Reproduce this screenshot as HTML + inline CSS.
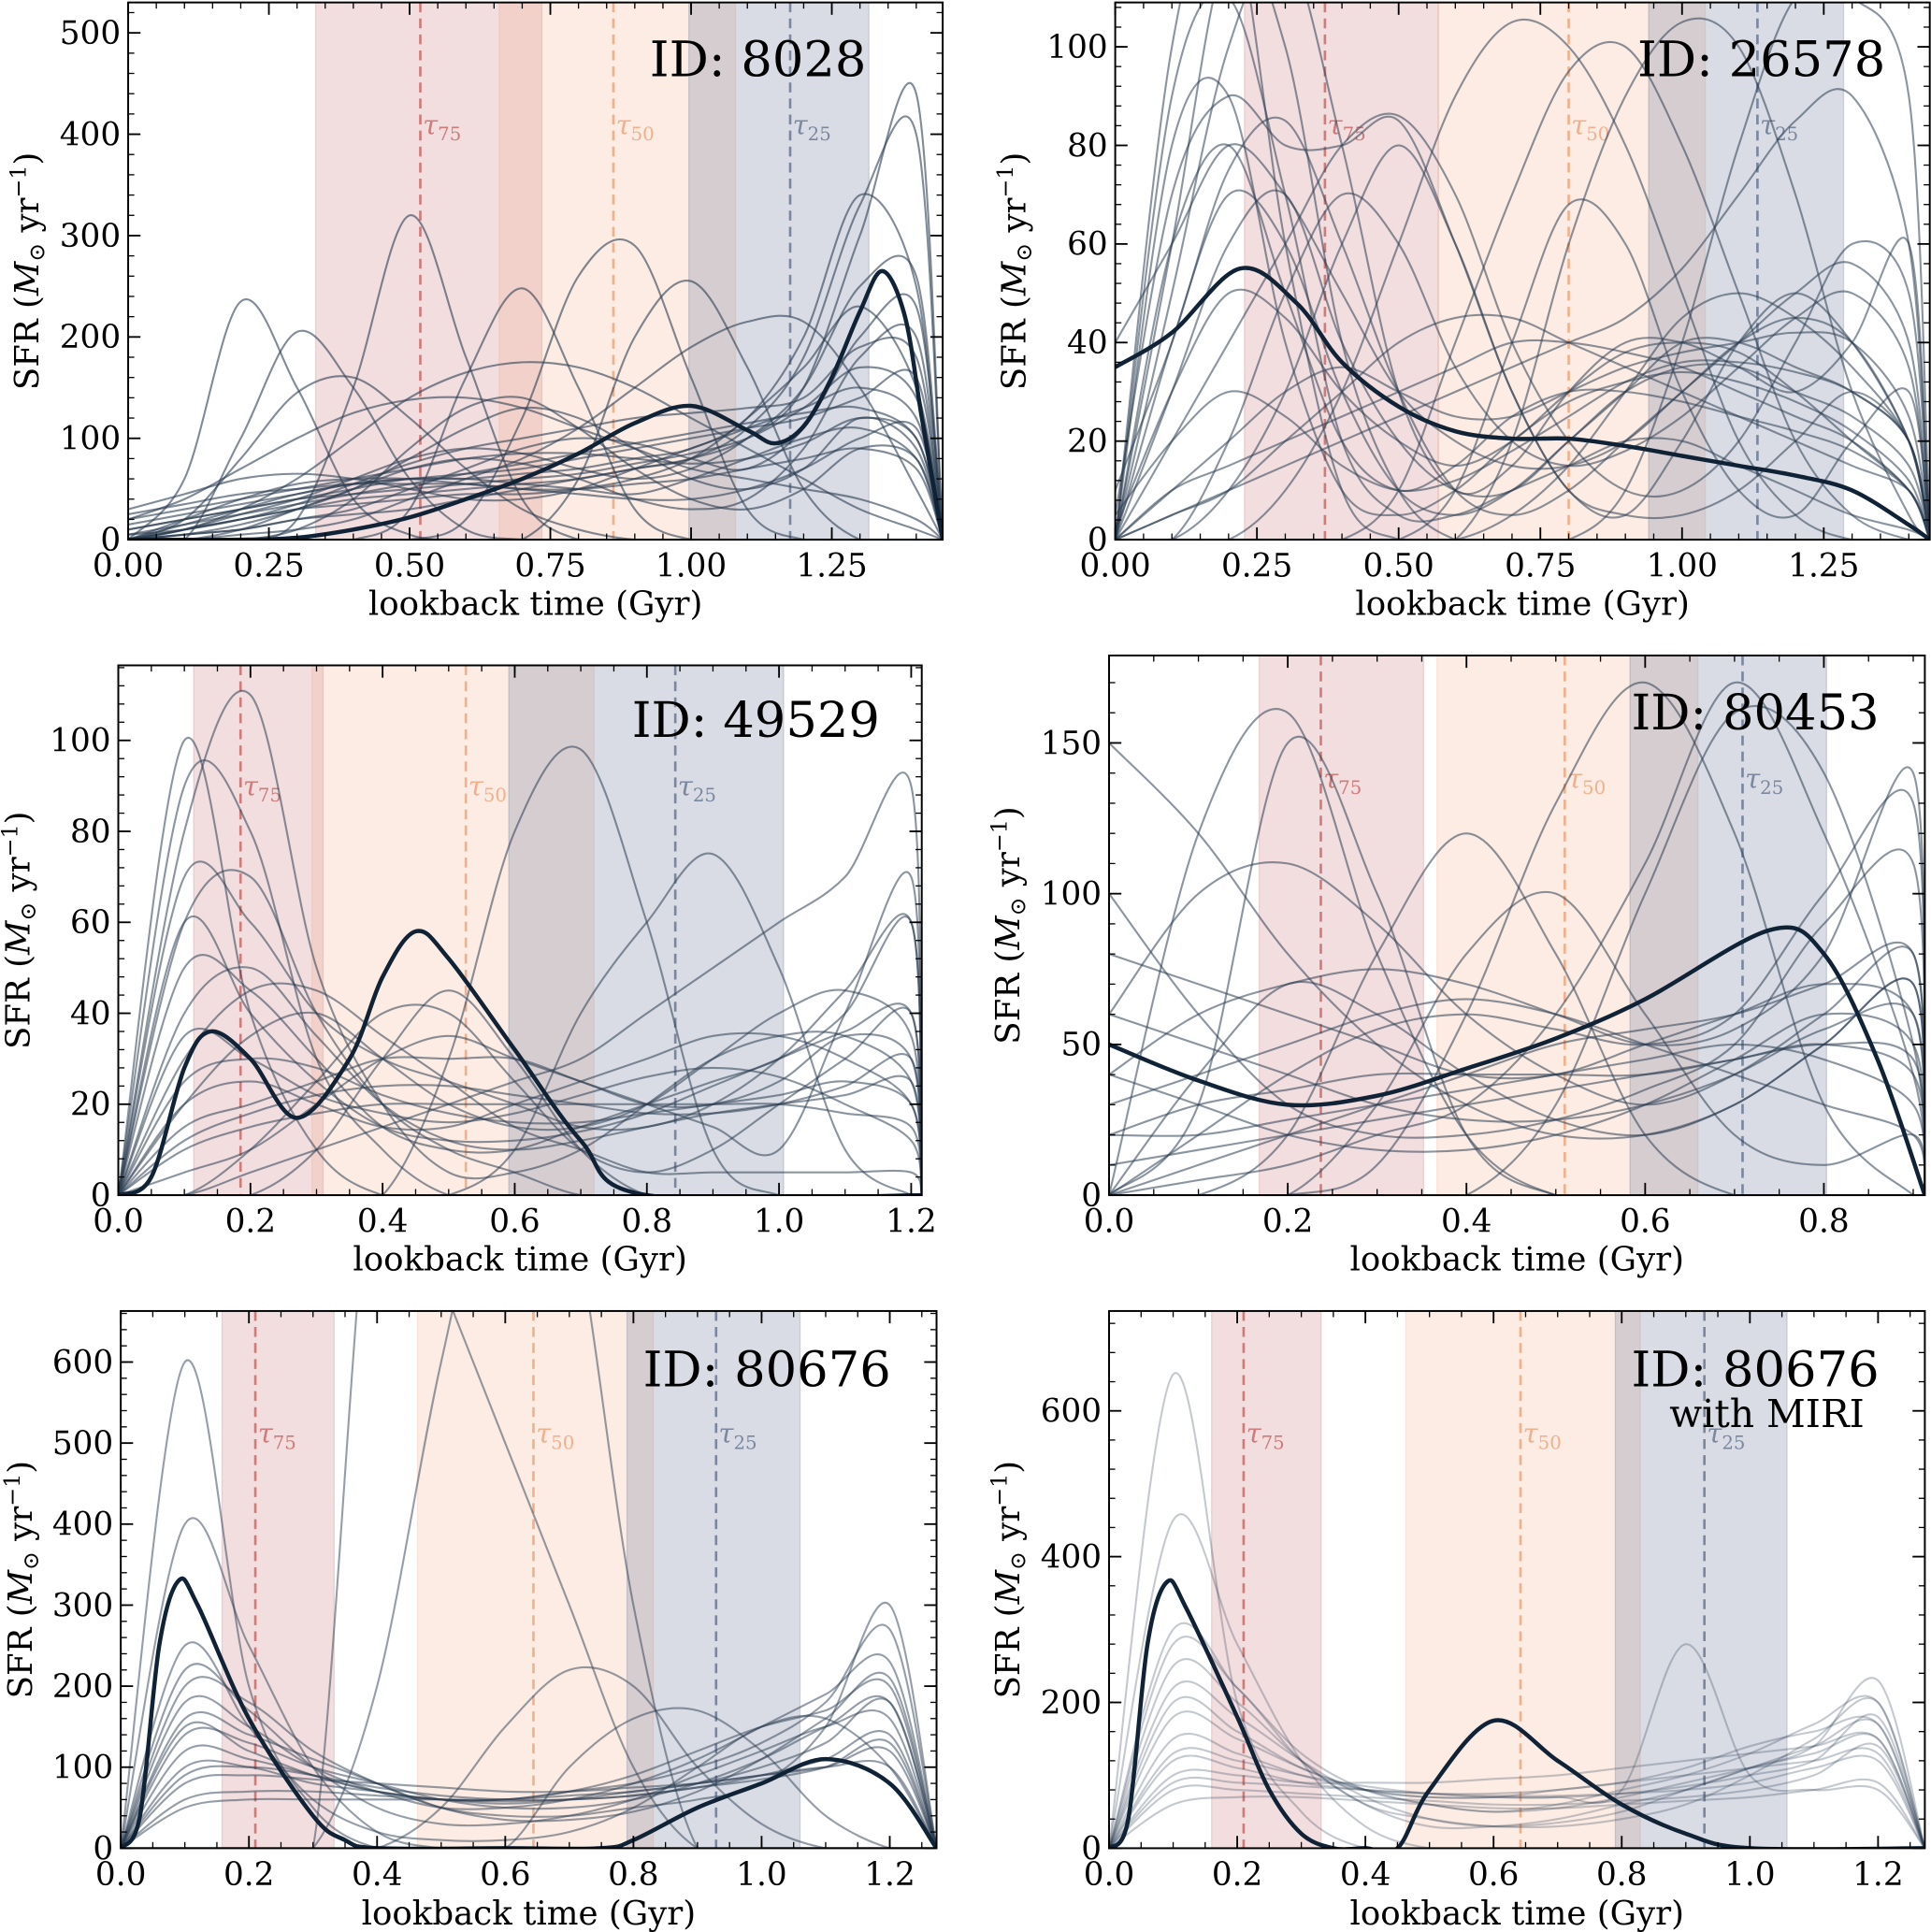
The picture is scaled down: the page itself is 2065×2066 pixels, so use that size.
<!DOCTYPE html>
<html><head><meta charset="utf-8"><style>
html,body{margin:0;padding:0;background:#fff;}
svg{display:block;font-family:"DejaVu Serif","Liberation Serif",serif;}
</style></head><body>
<svg id="fig" width="2065" height="2066" viewBox="0 0 1567 1568" preserveAspectRatio="none" xmlns="http://www.w3.org/2000/svg"></svg>
<script>
// ---------- DATA ----------
// Panel 1: ID 8028
const p1Times=[0,0.1,0.2,0.3,0.4,0.5,0.6,0.7,0.8,0.9,1.0,1.1,1.2,1.3,1.4,1.447];
const p1BoldTimes=[0,0.2,0.3,0.4,0.5,0.6,0.7,0.8,0.9,1.0,1.1,1.15,1.2,1.25,1.3,1.34,1.38,1.41,1.447];
const p1Bold=[0,0,2,10,22,40,60,85,115,132,108,95,112,160,225,265,220,120,0];
const p1Thin=[
[0,60,235,150,40,5,0,0,0,0,0,0,0,0,0,0],
[0,0,100,205,150,60,10,0,0,0,0,0,0,0,0,0],
[0,0,0,20,150,320,180,40,0,0,0,0,0,0,0,0],
[0,0,0,0,0,30,160,248,150,30,0,0,0,0,0,0],
[0,0,0,0,0,0,20,120,260,290,160,30,0,0,0,0],
[0,0,0,0,0,0,0,0,60,200,255,170,50,0,0,0],
[0,10,30,60,100,140,165,175,170,150,120,90,60,30,10,0],
[0,5,10,20,25,30,40,50,60,70,80,100,150,300,440,0],
[0,10,20,30,40,45,50,55,60,70,80,110,180,330,400,0],
[10,20,30,40,50,60,60,65,70,80,90,120,200,340,250,0],
[0,0,5,10,20,40,60,80,110,150,190,215,215,150,50,0],
[20,40,70,100,125,138,140,130,110,90,70,60,50,40,20,0],
[0,20,40,55,60,60,55,50,50,55,60,70,80,90,70,0],
[30,45,60,65,60,50,40,40,50,70,90,110,130,150,120,0],
[0,20,80,145,160,120,70,30,10,0,0,0,0,0,0,0],
[5,15,25,35,45,55,65,75,85,95,105,115,125,130,100,0],
[0,5,10,20,30,50,70,90,100,95,80,70,110,200,230,0],
[15,25,35,45,55,60,60,55,50,45,60,80,100,110,80,0],
[0,10,25,40,60,80,90,85,70,60,70,100,150,250,260,0],
[0,0,10,30,50,70,80,75,60,40,30,40,90,180,200,0],
[0,5,15,30,50,80,110,130,120,90,60,50,70,120,90,0],
[10,20,30,40,45,50,55,60,65,75,85,100,130,170,140,0],
[0,15,30,45,55,60,65,70,80,90,100,110,120,140,160,0],
[20,30,40,50,60,70,80,85,85,80,75,80,95,120,100,0],
[0,0,0,10,40,90,130,140,110,70,40,30,50,90,80,0],
[5,10,20,35,55,75,90,100,110,120,125,130,140,190,180,0],
[0,10,20,30,35,40,45,45,50,60,80,120,170,230,150,0],
[25,35,45,50,55,55,55,50,45,40,40,50,70,100,110,0]];
// Panel 2: ID 26578
const p2Times=[0,0.1,0.2,0.3,0.4,0.5,0.6,0.7,0.8,0.9,1.0,1.1,1.2,1.3,1.4,1.437];
const p2BoldTimes=[0,0.1,0.22,0.32,0.4,0.5,0.6,0.7,0.8,0.9,1.0,1.1,1.2,1.3,1.4,1.437];
const p2Bold=[35,42,55,48,36,27,22,20.5,20.5,19,17,15,13,10,3,0];
const p2Thin=[
[0,60,120,100,40,10,0,0,0,0,0,0,0,0,0,0],
[0,90,110,70,20,5,5,10,15,20,20,15,10,5,2,0],
[5,70,90,80,80,85,60,30,10,5,5,10,20,30,20,0],
[0,20,40,60,80,86,70,40,20,10,10,20,40,60,50,0],
[0,0,0,10,30,60,90,105,100,80,50,20,5,0,0,0],
[0,0,0,0,0,10,40,70,95,100,80,50,20,5,0,0],
[0,0,0,0,0,0,0,20,60,90,105,100,70,30,5,0],
[0,5,10,15,20,25,30,35,40,45,55,70,85,90,60,0],
[0,10,15,20,25,30,35,40,40,38,35,30,25,20,10,0],
[0,5,10,20,30,40,45,45,40,35,30,25,20,15,10,0],
[40,60,80,70,50,30,20,15,15,20,30,40,50,56,40,0],
[0,0,0,0,0,0,0,0,0,10,40,80,110,110,90,0],
[0,30,60,70,40,20,10,10,20,30,40,40,35,30,20,0],
[0,0,10,30,60,80,60,30,10,5,20,40,50,40,20,0],
[0,0,0,0,0,0,10,40,68,60,30,10,5,20,30,0],
[10,40,75,85,60,30,10,5,10,20,30,40,45,40,20,0],
[0,100,130,60,10,0,0,5,15,30,45,50,45,35,20,0],
[0,50,100,120,80,30,10,15,30,40,40,35,30,40,60,0],
[0,40,70,60,30,10,5,10,20,30,35,35,30,25,15,0],
[2,30,50,45,30,20,15,20,30,38,40,38,30,20,10,0],
[0,60,80,50,20,10,15,25,30,30,28,25,22,18,10,0],
[0,10,20,30,35,30,25,25,30,35,38,40,42,40,25,0],
[5,20,30,25,15,10,12,18,25,32,36,36,34,30,20,0],
[0,80,90,40,10,5,10,20,28,32,34,32,28,22,12,0],
[0,0,20,50,70,60,35,20,15,18,25,35,45,50,35,0]];
// Panel 3: ID 49529
const p3Times=[0,0.1,0.2,0.3,0.4,0.5,0.6,0.7,0.8,0.9,1.0,1.1,1.2,1.216];
const p3BoldTimes=[0,0.05,0.1,0.14,0.2,0.27,0.35,0.4,0.45,0.5,0.6,0.7,0.8,1.216];
const p3Bold=[0,4,28,36,30,17,30,48,58,52,32,12,0,0];
const p3Thin=[
[0,100,40,10,0,0,0,0,0,0,0,0,0,0],
[0,90,80,30,10,0,0,0,0,0,0,0,0,0],
[0,60,70,40,20,10,5,0,0,0,0,0,0,0],
[0,30,45,45,35,25,15,10,5,5,5,5,5,0],
[0,0,0,0,0,30,80,98,60,10,0,0,0,0],
[0,0,0,0,0,0,10,40,60,75,50,10,0,0],
[0,5,10,20,30,35,30,25,20,20,25,35,30,0],
[0,0,5,10,15,20,25,30,40,50,60,70,90,0],
[0,10,15,18,20,20,20,20,20,20,20,18,15,0],
[0,50,45,30,15,10,10,15,20,25,30,40,60,0],
[0,20,25,20,15,15,20,25,30,35,35,30,20,0],
[0,80,110,50,20,5,5,10,20,30,35,35,25,0],
[0,0,0,10,30,45,30,10,0,0,0,0,0,0],
[0,15,20,25,30,30,30,25,20,15,10,40,70,0],
[0,70,60,40,30,25,20,15,15,20,30,45,60,0],
[0,40,50,35,20,12,10,12,15,18,20,22,25,0],
[0,25,30,28,22,18,16,16,18,20,22,25,20,0],
[0,60,40,25,15,12,12,14,18,24,30,36,40,0],
[0,12,18,22,24,24,22,20,18,18,20,24,30,0],
[0,35,30,22,18,16,18,22,26,28,26,20,12,0],
[0,0,10,25,40,40,25,10,5,10,20,30,40,0],
[0,20,35,40,30,20,15,15,20,30,40,45,35,0]];
// Panel 4: ID 80453
const p4Times=[0,0.1,0.2,0.3,0.4,0.5,0.6,0.7,0.8,0.9,0.913];
const p4BoldTimes=[0,0.1,0.2,0.3,0.4,0.5,0.6,0.74,0.8,0.86,0.913];
const p4Bold=[50,38,30,33,42,52,65,88,80,45,0];
const p4Thin=[
[0,120,160,80,20,0,0,0,0,0,0],
[0,30,150,100,20,0,0,0,0,0,0],
[60,100,110,90,60,40,30,40,60,80,0],
[0,0,20,80,120,80,20,0,0,0,0],
[0,0,0,10,60,130,170,120,30,0,0],
[0,0,0,0,0,30,100,160,140,50,0],
[40,60,70,75,70,60,50,55,80,140,0],
[0,10,20,30,40,50,55,60,70,80,0],
[80,70,60,50,40,40,50,60,70,60,0],
[20,30,35,40,40,40,40,45,50,40,0],
[0,20,40,55,60,55,50,60,100,130,0],
[150,120,80,50,30,20,20,30,50,70,0],
[0,5,10,20,30,60,110,170,120,40,0],
[30,40,50,60,65,60,50,40,30,20,0],
[100,60,30,20,20,25,35,50,90,110,0],
[40,30,20,15,15,20,30,45,60,50,0],
[10,15,20,25,30,35,40,45,50,45,0],
[60,50,40,30,25,25,30,40,55,60,0],
[0,40,70,60,40,25,20,30,50,70,0],
[20,20,25,30,35,40,45,50,45,30,0],
[0,0,0,30,80,100,60,20,10,20,0]];
// Panel 5: ID 80676
const p5Times=[0,0.1,0.2,0.3,0.4,0.5,0.6,0.7,0.8,0.9,1.0,1.1,1.2,1.273];
const p5BoldTimes=[0,0.03,0.06,0.09,0.12,0.2,0.3,0.35,0.4,0.6,0.75,0.8,0.9,1.0,1.1,1.2,1.273];
const p5Bold=[0,40,250,330,300,160,40,10,0,0,0,10,50,80,110,80,0];
const p5Thin=[
[0,600,200,50,0,0,0,0,0,0,0,0,0,0],
[0,400,250,100,20,0,0,0,0,0,0,0,0,0],
[0,200,180,120,80,50,40,40,50,60,80,150,300,0],
[0,150,120,90,70,60,60,70,80,100,130,180,270,0],
[0,0,0,0,200,600,900,800,300,0,0,0,0,0],
[0,100,100,80,70,60,60,70,90,120,150,170,200,0],
[0,0,0,0,0,50,150,220,200,100,30,0,0,0],
[0,180,150,100,70,50,50,60,80,110,150,190,230,0],
[0,120,110,90,70,60,55,60,70,80,100,130,180,0],
[0,80,90,85,80,75,70,70,75,80,90,100,120,0],
[0,50,60,60,60,60,60,65,70,80,90,100,100,0],
[0,0,0,0,0,0,0,100,160,170,120,40,0,0],
[0,0,0,0,900,700,500,300,100,0,0,0,0,0],
[0,250,150,60,20,10,10,20,50,100,150,160,100,0],
[0,140,130,100,80,60,50,50,60,80,110,150,180,0],
[0,90,100,90,75,65,60,60,65,75,90,110,140,0],
[0,220,170,100,50,30,30,40,60,90,120,150,160,0],
[0,60,70,70,65,60,58,60,65,75,85,100,130,0],
[0,160,140,110,80,50,35,35,45,70,110,160,210,0]];
// Panel 6: ID 80676 with MIRI
const p6Times=[0,0.1,0.2,0.3,0.4,0.5,0.6,0.7,0.8,0.9,1.0,1.1,1.2,1.273];
const p6BoldTimes=[0,0.03,0.06,0.09,0.12,0.2,0.25,0.3,0.35,0.4,0.45,0.5,0.6,0.7,0.8,0.9,1.0,1.273];
const p6Bold=[0,40,280,365,330,180,80,20,0,0,0,80,175,120,60,20,0,0];
const p6Thin=[
[0,650,200,50,0,0,0,0,0,0,0,0,0,0],
[0,450,280,120,30,0,0,0,0,0,0,0,0,0],
[0,300,220,130,80,60,50,60,80,100,130,170,200,0],
[0,200,160,110,80,70,70,80,90,110,140,160,170,0],
[0,150,130,100,80,70,70,70,80,280,100,80,80,0],
[0,120,110,90,80,75,75,80,90,100,110,120,130,0],
[0,100,100,90,90,90,95,100,110,120,130,140,150,0],
[0,80,80,75,70,65,60,60,65,70,80,100,140,0],
[0,60,70,70,65,60,55,55,60,65,70,80,90,0],
[0,250,200,120,60,40,30,30,40,60,100,150,200,0],
[0,280,220,120,60,30,30,40,60,80,110,140,230,0],
[0,180,150,110,80,60,50,55,70,90,110,130,150,0],
[0,130,120,100,85,75,70,70,75,85,100,120,180,0],
[0,220,180,120,70,40,30,35,50,80,110,140,170,0],
[0,90,90,85,80,75,72,72,75,80,90,110,120,0]];
// Percentile bands [lo,hi] and tau lines
const p1Bands=[[0.333,0.735],[0.659,1.079],[0.996,1.316]], p1Tau=[0.519,0.862,1.176];
const p2Bands=[[0.228,0.570],[0.570,1.041],[0.941,1.285]], p2Tau=[0.370,0.800,1.133];
const p3Bands=[[0.114,0.310],[0.293,0.720],[0.591,1.007]], p3Tau=[0.185,0.526,0.843];
const p4Bands=[[0.168,0.352],[0.367,0.659],[0.583,0.803]], p4Tau=[0.237,0.510,0.709];
const p5Bands=[[0.158,0.333],[0.463,0.831],[0.790,1.060]], p5Tau=[0.210,0.644,0.929];
const p6Bands=[[0.160,0.331],[0.463,0.829],[0.790,1.058]], p6Tau=[0.210,0.642,0.929];
// tick labels
const p1XTicks=[0,0.25,0.5,0.75,1.0,1.25], p1XLabels=["0.00","0.25","0.50","0.75","1.00","1.25"], p1YTicks=[0,100,200,300,400,500];
const p2XTicks=[0,0.25,0.5,0.75,1.0,1.25], p2XLabels=["0.00","0.25","0.50","0.75","1.00","1.25"], p2YTicks=[0,20,40,60,80,100];
const p3XTicks=[0,0.2,0.4,0.6,0.8,1.0,1.2], p3XLabels=["0.0","0.2","0.4","0.6","0.8","1.0","1.2"], p3YTicks=[0,20,40,60,80,100];
const p4XTicks=[0,0.2,0.4,0.6,0.8], p4XLabels=["0.0","0.2","0.4","0.6","0.8"], p4YTicks=[0,50,100,150];
const p5XTicks=[0,0.2,0.4,0.6,0.8,1.0,1.2], p5XLabels=["0.0","0.2","0.4","0.6","0.8","1.0","1.2"], p5YTicks=[0,100,200,300,400,500,600];
const p6XTicks=[0,0.2,0.4,0.6,0.8,1.0,1.2], p6XLabels=["0.0","0.2","0.4","0.6","0.8","1.0","1.2"], p6YTicks=[0,200,400,600];

// ---------- LAYOUT ----------
const panels=[
 {id:"8028",sub:"",L:104,R:765,T:2,B:438,xmax:1.447,ymax:530,xminor:0.05,yminor:20,times:p1Times,thin:p1Thin,bt:p1BoldTimes,bold:p1Bold,bands:p1Bands,tau:p1Tau,xt:p1XTicks,xl:p1XLabels,yt:p1YTicks,op:0.6,idx:703,idy:62,ylx:22,xly:499},
 {id:"26578",sub:"",L:905,R:1566,T:2,B:438,xmax:1.437,ymax:109,xminor:0.05,yminor:4,times:p2Times,thin:p2Thin,bt:p2BoldTimes,bold:p2Bold,bands:p2Bands,tau:p2Tau,xt:p2XTicks,xl:p2XLabels,yt:p2YTicks,op:0.55,idx:1530,idy:62,ylx:823,xly:499},
 {id:"49529",sub:"",L:96,R:748,T:540,B:970,xmax:1.216,ymax:116.5,xminor:0.05,yminor:4,times:p3Times,thin:p3Thin,bt:p3BoldTimes,bold:p3Bold,bands:p3Bands,tau:p3Tau,xt:p3XTicks,xl:p3XLabels,yt:p3YTicks,op:0.55,idx:714,idy:598,ylx:15,xly:1031},
 {id:"80453",sub:"",L:900,R:1562,T:532,B:970,xmax:0.913,ymax:179,xminor:0.05,yminor:10,times:p4Times,thin:p4Thin,bt:p4BoldTimes,bold:p4Bold,bands:p4Bands,tau:p4Tau,xt:p4XTicks,xl:p4XLabels,yt:p4YTicks,op:0.55,idx:1525,idy:592,ylx:818,xly:1031},
 {id:"80676",sub:"",L:98,R:760,T:1064,B:1500,xmax:1.273,ymax:663,xminor:0.05,yminor:20,times:p5Times,thin:p5Thin,bt:p5BoldTimes,bold:p5Bold,bands:p5Bands,tau:p5Tau,xt:p5XTicks,xl:p5XLabels,yt:p5YTicks,op:0.5,idx:723,idy:1125,ylx:17,xly:1562},
 {id:"80676",sub:"with MIRI",L:900,R:1562,T:1064,B:1500,xmax:1.273,ymax:737,xminor:0.05,yminor:40,times:p6Times,thin:p6Thin,bt:p6BoldTimes,bold:p6Bold,bands:p6Bands,tau:p6Tau,xt:p6XTicks,xl:p6XLabels,yt:p6YTicks,op:0.28,idx:1525,idy:1125,ylx:818,xly:1562}
];
const NS="http://www.w3.org/2000/svg";
const svg=document.getElementById('fig');
function mk(tag,attrs,parent){const e=document.createElementNS(NS,tag);for(const k in attrs)e.setAttribute(k,attrs[k]);(parent||svg).appendChild(e);return e;}
function pathFrom(pts){
  let d="M"+pts[0][0].toFixed(1)+","+pts[0][1].toFixed(1);
  for(let i=0;i<pts.length-1;i++){
    const p0=pts[Math.max(0,i-1)],p1=pts[i],p2=pts[i+1],p3=pts[Math.min(pts.length-1,i+2)];
    const c1=[p1[0]+(p2[0]-p0[0])/6,p1[1]+(p2[1]-p0[1])/6];
    const c2=[p2[0]-(p3[0]-p1[0])/6,p2[1]-(p3[1]-p1[1])/6];
    d+="C"+c1[0].toFixed(1)+","+c1[1].toFixed(1)+" "+c2[0].toFixed(1)+","+c2[1].toFixed(1)+" "+p2[0].toFixed(1)+","+p2[1].toFixed(1);
  }
  return d;
}
const bandColors=["rgba(190,90,95,0.2)","rgba(240,160,120,0.2)","rgba(80,95,135,0.22)"];
const tauColors=["#d07a7a","#f2b08a","#7a879f"];
const tauNames=["75","50","25"];
panels.forEach((p,pi)=>{
  const g=mk('g',{});
  
  
  const sx=v=>p.L+v/p.xmax*(p.R-p.L);
  const sy=v=>p.B-v/p.ymax*(p.B-p.T);
  const cid='clip'+pi;
  const cp=mk('clipPath',{id:cid},g);mk('rect',{x:p.L,y:p.T,width:p.R-p.L,height:p.B-p.T},cp);
  p.bands.forEach((b,i)=>{
    const r=mk('rect',{x:sx(b[0]),y:p.T,width:sx(b[1])-sx(b[0]),height:p.B-p.T,fill:bandColors[i],stroke:bandColors[i]},g);
    
    
  });
  p.tau.forEach((t,i)=>{
    const l=mk('line',{x1:sx(t),x2:sx(t),y1:p.T,y2:p.B,stroke:tauColors[i],'stroke-width':2,'stroke-dasharray':'8,5'},g);
    
    
    const tx=mk('text',{x:sx(t)+2,y:p.T+0.245*(p.B-p.T),fill:tauColors[i],'font-size':22,'font-style':'italic'},g);
    
    
    tx.textContent='τ';
    const s=mk('tspan',{'font-size':15,'font-style':'normal',dy:5},tx);s.textContent=tauNames[i];
  });
  const lg=mk('g',{'clip-path':'url(#'+cid+')'},g);
  p.thin.forEach((vals,k)=>{
    const pts=vals.map((v,j)=>[sx(p.times[j]),sy(v)]);
    const pa=mk('path',{d:pathFrom(pts),fill:'none',stroke:'#2c3e52','stroke-opacity':p.op,'stroke-width':1.6},lg);
    
    
  });
  const bpts=p.bold.map((v,j)=>[sx(p.bt[j]),sy(Math.max(0,v))]);
  const bp=mk('path',{d:pathFrom(bpts),fill:'none',stroke:'#0f2236','stroke-width':3.4},lg);
  
  
  const fr=mk('rect',{x:p.L,y:p.T,width:p.R-p.L,height:p.B-p.T,fill:'none',stroke:'#000','stroke-width':1.5},g);
  
  
  for(let v=0;v<=p.xmax+1e-9;v+=p.xminor){
    const x=sx(v);mk('line',{x1:x,x2:x,y1:p.B,y2:p.B-5,stroke:'#000','stroke-width':1},g);mk('line',{x1:x,x2:x,y1:p.T,y2:p.T+5,stroke:'#000','stroke-width':1},g);
  }
  for(let v=0;v<=p.ymax+1e-9;v+=p.yminor){
    const y=sy(v);mk('line',{x1:p.L,x2:p.L+5,y1:y,y2:y,stroke:'#000','stroke-width':1},g);mk('line',{x1:p.R,x2:p.R-5,y1:y,y2:y,stroke:'#000','stroke-width':1},g);
  }
  p.xt.forEach((v,i)=>{
    const x=sx(v);mk('line',{x1:x,x2:x,y1:p.B,y2:p.B-10,stroke:'#000','stroke-width':1.4},g);mk('line',{x1:x,x2:x,y1:p.T,y2:p.T+10,stroke:'#000','stroke-width':1.4},g);
    const t=mk('text',{x:x,y:p.B+30,'text-anchor':'middle','font-size':26},g);
    
    
    t.textContent=p.xl[i];
  });
  p.yt.forEach(v=>{
    const y=sy(v);mk('line',{x1:p.L,x2:p.L+10,y1:y,y2:y,stroke:'#000','stroke-width':1.4},g);mk('line',{x1:p.R,x2:p.R-10,y1:y,y2:y,stroke:'#000','stroke-width':1.4},g);
    const t=mk('text',{x:p.L-6,y:y+9,'text-anchor':'end','font-size':26},g);
    
    
    t.textContent=String(v);
  });
  const xl=mk('text',{x:(p.L+p.R)/2,y:p.xly,'text-anchor':'middle','font-size':27},g);
  
  
  xl.textContent='lookback time (Gyr)';
  const cy=(p.T+p.B)/2;
  const yl=mk('text',{x:p.ylx,y:cy,'text-anchor':'middle','font-size':27,transform:'rotate(-90 '+p.ylx+' '+cy+')',dy:9},g);
  
  
  yl.appendChild(document.createTextNode('SFR ('));
  const m=mk('tspan',{'font-style':'italic'},yl);m.textContent='M';
  const s1=mk('tspan',{'font-size':18,dy:5},yl);s1.textContent='⊙';
  const s2=mk('tspan',{dy:-5},yl);s2.textContent=' yr';
  const s3=mk('tspan',{'font-size':18,dy:-10},yl);s3.textContent='−1';
  const s4=mk('tspan',{dy:10},yl);s4.textContent=')';
  const idt=mk('text',{x:p.idx,y:p.idy,'text-anchor':'end','font-size':40},g);
  
  
  idt.textContent='ID: '+p.id;
  if(p.sub){
    const st=mk('text',{x:p.idx-12,y:p.idy+33,'text-anchor':'end','font-size':31},g);
    
    
    st.textContent=p.sub;
  }
});
</script>
</body></html>
